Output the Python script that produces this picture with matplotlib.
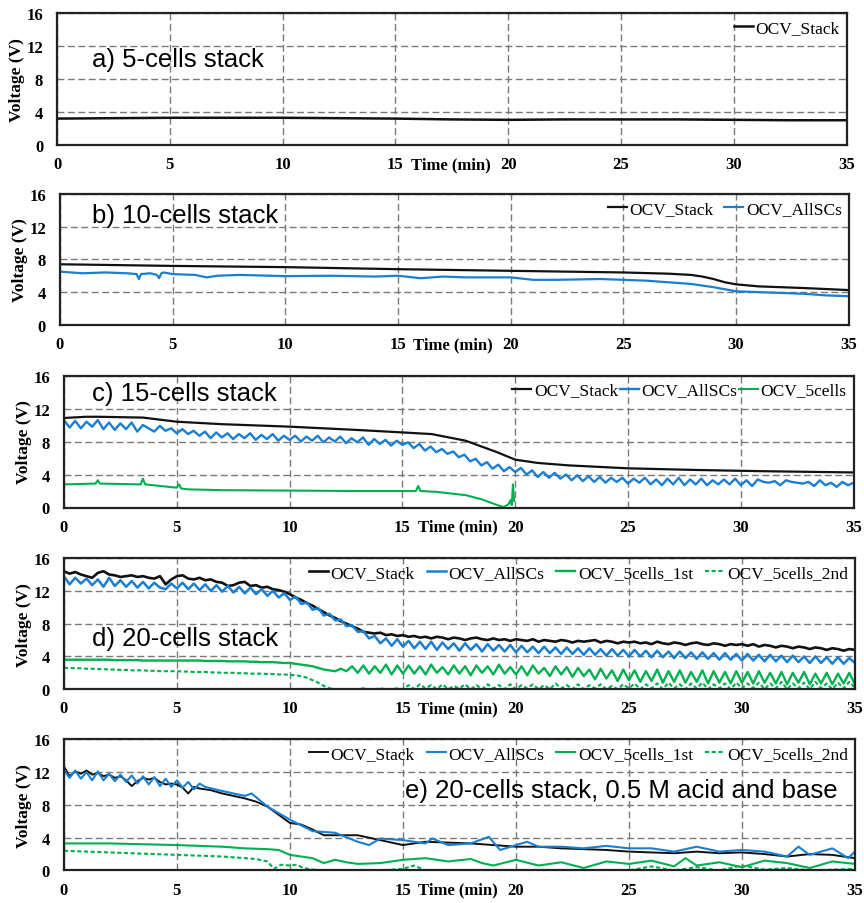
import numpy as np
import matplotlib
matplotlib.use("Agg")
import matplotlib.pyplot as plt

BLACK = "#111111"
BLUE = "#1a7fd0"
GREEN = "#00b050"

# ---- a) 5-cells stack
a_time = [0, 2.5, 5, 7.5, 10, 12.5, 15, 17.5, 20, 22.5, 25, 27.5, 30, 32.5, 35]
a_stack = [3.2, 3.25, 3.3, 3.3, 3.3, 3.25, 3.2, 3.1, 3.05, 3.1, 3.1, 3.1, 3.05, 3.0, 3.0]

# ---- b) 10-cells stack
b_stack_time = [0, 5, 10, 15, 20, 25, 27, 28, 28.5, 29, 29.5, 30, 31, 33, 35]
b_stack = [7.4, 7.2, 7.05, 6.8, 6.6, 6.4, 6.25, 6.1, 5.9, 5.6, 5.2, 4.95, 4.7, 4.5, 4.25]
b_allscs_time = [0, 1, 2, 3, 3.4, 3.5, 3.6, 4, 4.3, 4.4, 4.5, 4.6, 5, 6, 6.5, 7, 8, 10, 12, 14,
                 15, 16, 17, 18, 20, 21, 22, 24, 25, 26, 27, 28, 29, 30, 31, 32, 33, 34, 35]
b_allscs = [6.5, 6.3, 6.4, 6.3, 6.2, 5.6, 6.2, 6.3, 6.1, 5.7, 6.3, 6.4, 6.2, 6.1, 5.8, 6.0, 6.1, 5.95, 6.0, 5.9,
            6.0, 5.7, 5.9, 5.8, 5.8, 5.5, 5.5, 5.6, 5.5, 5.4, 5.2, 5.0, 4.6, 4.1, 4.0, 3.9, 3.8, 3.6, 3.5]

# ---- c) 15-cells stack
c_stack_time = [0, 1, 1.5, 3.5, 5, 7, 10, 13, 15, 16.3, 17.8, 19.2, 20, 21, 22.4, 25, 28, 31, 35]
c_stack = [10.85, 11.0, 11.0, 10.9, 10.4, 10.1, 9.8, 9.4, 9.1, 8.9, 8.1, 6.7, 5.8, 5.4, 5.1, 4.75, 4.55, 4.4, 4.25]
# sampled every 0.25 min
c_allscs = [10.6, 9.7, 10.5, 9.6, 10.4, 9.8, 10.6, 9.5, 10.3, 9.4, 10.2, 9.5, 10.3, 9.2, 10.0, 9.6, 9.2, 9.9, 9.3, 9.6, 9.0,
            9.5, 8.9, 9.3, 8.7, 9.2, 8.4, 9.1, 8.5, 9.0, 8.3, 8.9, 8.4, 9.0, 8.2, 8.8, 8.3, 8.9, 8.1, 8.7, 8.2,
            8.7, 8.0, 8.6, 8.1, 8.7, 7.9, 8.5, 8.0, 8.6, 7.8, 8.4, 7.9, 8.5, 7.6, 8.3, 7.7, 8.2, 7.5, 8.1, 7.6,
            7.9, 7.2, 7.7, 6.9, 7.4, 6.7, 7.1, 6.5, 6.8, 6.1, 6.4, 5.6, 5.9, 5.1, 5.5, 4.7, 5.2, 4.4, 4.9, 4.3,
            4.8, 4.0, 4.5, 3.7, 4.3, 3.6, 4.2, 3.5, 4.0, 3.3, 3.9, 3.2, 3.8, 3.1, 3.7, 3.0, 3.6, 3.1, 3.6, 2.9,
            3.5, 3.0, 3.6, 2.8, 3.4, 2.7, 3.5, 2.8, 3.6, 2.7, 3.4, 2.8, 3.5, 2.7, 3.3, 2.8, 3.4, 2.8, 3.5, 2.7,
            3.3, 2.6, 3.4, 3.1, 3.0, 3.2, 2.7, 3.3, 3.1, 3.0, 2.9, 3.1, 2.6, 3.3, 2.7, 3.0, 2.5, 3.1, 2.7, 3.0]
c_5cells_time = [0, 1.4, 1.5, 1.6, 3.4, 3.5, 3.6, 5.0, 5.1, 5.2, 5.5, 7, 10, 13, 15.6, 15.7, 15.8,
                 16.5, 17.8, 18.5, 19.2, 19.5, 19.7, 19.8, 19.85, 19.9, 19.95]
c_5cells = [2.8, 2.9, 3.3, 2.9, 2.8, 3.5, 2.8, 2.4, 2.8, 2.3, 2.2, 2.1, 2.05, 2.0, 2.0, 2.6, 2.0,
            1.9, 1.5, 1.0, 0.3, 0.05, 0.4, 0.9, 0.3, 2.8, 0.8]

# ---- d) 20-cells stack, every 0.25 min
d_stack = [14.4, 14.1, 14.3, 14.0, 13.8, 13.6, 14.2, 14.4, 14.0, 13.9, 13.7, 13.8, 13.9, 13.7, 13.8, 13.6, 13.5, 13.8, 12.8, 13.4, 13.8,
           13.9, 13.5, 13.4, 13.6, 13.3, 13.4, 13.1, 13.0, 12.6, 12.7, 13.0, 13.1, 12.6, 12.7, 12.4, 12.5, 12.2, 12.1, 11.9, 11.6,
           11.2, 10.9, 10.5, 10.2, 9.8, 9.4, 9.0, 8.7, 8.3, 8.0, 7.7, 7.4, 7.0, 6.9, 6.8, 6.9, 6.6, 6.7, 6.5, 6.6,
           6.4, 6.5, 6.3, 6.4, 6.2, 6.4, 6.3, 6.1, 6.3, 6.2, 6.0, 6.2, 6.3, 6.1, 6.0, 6.2, 6.0, 6.1, 5.9, 6.1,
           6.0, 5.9, 6.1, 5.8, 6.0, 5.9, 5.8, 6.0, 5.9, 5.7, 5.9, 5.8, 5.9, 6.0, 5.7, 5.9, 5.8, 5.6, 5.8, 5.7,
           5.8, 5.6, 5.7, 5.5, 5.8, 5.6, 5.5, 5.7, 5.6, 5.4, 5.6, 5.7, 5.5, 5.4, 5.6, 5.5, 5.3, 5.5, 5.4, 5.5,
           5.3, 5.5, 5.2, 5.4, 5.3, 5.1, 5.3, 5.2, 5.0, 5.2, 5.1, 4.9, 5.1, 5.0, 4.8, 5.0, 4.9, 4.7, 4.9, 4.8]
d_allscs = [13.8, 12.8, 13.6, 12.9, 13.5, 12.7, 13.4, 12.5, 13.6, 12.6, 13.3, 12.5, 13.2, 12.4, 13.1, 12.3, 13.0, 12.4, 12.2, 12.9, 12.3,
            13.0, 12.2, 12.9, 12.1, 12.8, 12.0, 12.7, 11.9, 12.6, 11.8, 12.5, 11.7, 12.4, 11.6, 12.2, 11.4, 12.0, 11.2, 11.7, 10.9,
            11.3, 10.4, 10.6, 9.7, 9.9, 9.0, 9.2, 8.4, 8.5, 7.7, 7.8, 7.0, 7.1, 6.2, 6.5, 5.6, 6.2, 5.3, 6.1, 5.2,
            5.9, 5.0, 5.8, 4.9, 5.8, 4.8, 5.7, 4.9, 5.6, 4.7, 5.6, 4.8, 5.5, 4.6, 5.5, 4.7, 5.4, 4.6, 5.4, 4.5,
            5.3, 4.5, 5.2, 4.4, 5.2, 4.4, 5.1, 4.3, 5.1, 4.3, 5.0, 4.2, 5.0, 4.2, 4.9, 4.1, 4.9, 4.1, 4.8, 4.0,
            4.8, 4.0, 4.7, 3.9, 4.7, 3.9, 4.6, 3.8, 4.6, 3.8, 4.5, 3.7, 4.5, 3.7, 4.4, 3.6, 4.4, 3.6, 4.3, 3.5,
            4.3, 3.5, 4.2, 3.4, 4.2, 3.4, 4.1, 3.3, 4.1, 3.3, 4.0, 3.2, 4.0, 3.2, 3.9, 3.1, 3.9, 3.1, 3.8, 3.2]
d_5cells_1st = [3.6, 3.6, 3.6, 3.6, 3.6, 3.6, 3.6, 3.6, 3.6, 3.55, 3.55, 3.55, 3.55, 3.55, 3.5, 3.5, 3.5, 3.5, 3.5, 3.5, 3.5,
                3.5, 3.5, 3.5, 3.5, 3.45, 3.45, 3.45, 3.45, 3.4, 3.4, 3.4, 3.4, 3.35, 3.35, 3.3, 3.3, 3.3, 3.25, 3.2, 3.2,
                3.1, 3.0, 2.9, 2.8, 2.6, 2.4, 2.3, 2.2, 2.5, 2.2, 2.8, 2.0, 2.9, 1.9, 2.8, 2.0, 3.0, 1.8, 2.9, 1.9,
                2.9, 1.9, 2.8, 1.8, 3.0, 2.0, 2.7, 1.8, 2.9, 1.9, 2.8, 1.7, 2.9, 2.0, 2.8, 1.8, 3.0, 1.9, 2.7, 1.8,
                2.8, 1.7, 2.9, 1.9, 2.6, 1.6, 2.8, 1.8, 2.7, 1.5, 2.6, 1.6, 2.4, 1.2, 2.5, 1.3, 2.3, 1.0, 2.4, 1.1,
                2.3, 0.9, 2.2, 1.0, 2.4, 0.8, 2.2, 0.9, 2.3, 0.8, 2.1, 0.9, 2.3, 0.7, 2.2, 0.8, 2.1, 0.7, 2.2, 0.8,
                2.1, 0.7, 2.2, 0.8, 2.0, 0.7, 2.1, 0.6, 2.0, 0.8, 2.1, 0.6, 1.9, 0.7, 2.0, 0.6, 1.9, 0.7, 2.0, 0.6]
d_5cells_2nd = [2.6, 2.6, 2.55, 2.55, 2.5, 2.5, 2.45, 2.45, 2.4, 2.4, 2.35, 2.35, 2.3, 2.3, 2.3, 2.25, 2.25, 2.2, 2.2, 2.2, 2.2,
                2.15, 2.15, 2.1, 2.1, 2.1, 2.05, 2.05, 2.0, 2.0, 2.0, 1.95, 1.95, 1.9, 1.9, 1.9, 1.85, 1.85, 1.8, 1.8, 1.75,
                1.7, 1.6, 1.4, 1.1, 0.8, 0.4, 0.1, 0.0, 0.0, 0.0, 0.0, 0.0, 0.1, 0.0, 0.0, 0.1, 0.0, 0.0, 0.1, 0.0,
                0.5, 0.0, 0.6, 0.1, 0.5, 0.0, 0.6, 0.0, 0.4, 0.1, 0.6, 0.0, 0.5, 0.0, 0.6, 0.1, 0.5, 0.0, 0.6, 0.0,
                0.5, 0.1, 0.6, 0.0, 0.5, 0.0, 0.7, 0.1, 0.5, 0.0, 0.6, 0.0, 0.5, 0.1, 0.6, 0.0, 0.4, 0.0, 0.6, 0.1,
                0.7, 0.0, 0.6, 0.1, 0.7, 0.0, 0.8, 0.1, 0.6, 0.0, 0.7, 0.1, 0.8, 0.0, 0.6, 0.1, 0.7, 0.0, 0.8, 0.1,
                0.7, 0.1, 0.8, 0.0, 0.7, 0.1, 0.9, 0.0, 0.7, 0.1, 0.8, 0.0, 0.9, 0.1, 0.7, 0.0, 0.8, 0.1, 0.9, 0.2]

# ---- e) 20-cells stack, 0.5 M acid and base
e_stack_time = [0, 0.25, 0.5, 0.75, 1, 1.25, 1.5, 1.75, 2, 2.25, 2.5, 2.75, 3, 3.25, 3.5, 3.75, 4, 4.25,
                4.5, 4.75, 5, 5.25, 5.5, 5.75, 6, 6.5, 7, 7.5, 8, 8.5, 9, 9.5, 10, 10.5, 11, 11.5, 12, 13,
                14, 15, 16, 17, 18, 19, 20, 21, 22, 23, 24, 25, 26, 27, 28, 29, 30, 31, 32, 33, 34, 35]
e_stack = [12.7, 11.5, 12.1, 11.8, 12.2, 11.7, 11.9, 11.5, 11.7, 11.3, 11.5, 11.0, 10.3, 10.9, 11.3, 11.1, 11.3, 10.8,
           10.5, 10.6, 10.5, 10.1, 9.4, 10.2, 10.0, 9.8, 9.4, 9.1, 8.8, 8.4, 7.8, 6.8, 5.8, 5.6, 5.0, 4.3, 4.3, 4.3,
           3.7, 3.1, 3.5, 3.4, 3.3, 3.1, 2.9, 2.9, 2.7, 2.6, 2.5, 2.3, 2.2, 2.1, 2.3, 2.1, 2.2, 2.0, 1.7, 2.0, 1.9, 1.5]
e_allscs_time = [0, 0.25, 0.5, 0.75, 1, 1.25, 1.5, 1.75, 2, 2.25, 2.5, 2.75, 3, 3.25, 3.5, 3.75, 4, 4.25,
                 4.5, 4.75, 5, 5.25, 5.5, 5.75, 6, 6.25, 7, 8, 8.3, 9, 10, 11, 12, 13, 13.5, 14, 15, 16, 16.3,
                 17, 18, 18.8, 19.3, 20, 20.5, 21, 22, 23, 24, 25, 26, 27, 28, 29, 30, 31, 32, 32.5, 33, 34, 34.7, 35]
e_allscs = [12.3, 11.3, 12.2, 11.2, 12.0, 11.0, 12.1, 11.0, 11.8, 10.9, 11.7, 10.8, 11.6, 10.6, 11.5, 10.5, 11.4, 10.3,
            11.2, 10.2, 11.0, 10.1, 10.8, 9.9, 10.6, 10.2, 9.7, 9.1, 9.4, 7.8, 6.2, 4.8, 4.6, 3.5, 3.1, 3.9, 3.7, 3.3, 3.9,
            3.1, 3.3, 4.1, 2.5, 3.1, 3.5, 2.9, 2.9, 2.7, 3.0, 2.7, 2.7, 2.3, 2.9, 2.3, 2.5, 2.3, 1.7, 2.9, 1.9, 2.7, 1.5, 2.3]
e_1st_time = [0, 2, 5, 7, 8, 9, 9.5, 10, 10.5, 11, 11.5, 12, 12.5, 13, 14, 15, 16, 17, 18, 18.5, 19,
              20, 21, 22, 23, 24, 25, 26, 27, 27.5, 28, 29, 30, 31, 32, 33, 34, 35]
e_1st = [3.3, 3.3, 3.1, 2.9, 2.7, 2.6, 2.5, 1.9, 1.7, 1.5, 0.9, 1.3, 1.0, 0.8, 0.9, 1.3, 1.5, 1.1, 1.4, 0.9, 0.6,
         1.3, 0.6, 1.0, 0.3, 1.1, 0.8, 1.2, 0.5, 1.5, 0.6, 1.0, 0.4, 1.2, 0.9, 0.3, 1.1, 0.8]
e_2nd_time = [0, 2, 5, 7, 8.5, 9, 9.3, 9.6, 10, 10.3, 10.6, 11, 12, 13, 14, 15, 15.5, 16, 17, 18, 19,
              20, 22, 25, 26, 27, 28, 29, 30, 31, 32, 33, 35]
e_2nd = [2.4, 2.2, 1.9, 1.7, 1.4, 1.1, 0.2, 0.7, 0.6, 0.7, 0.3, 0.1, 0.0, 0.0, 0.0, 0.2, 0.6, 0.0, 0.0, 0.0, 0.0,
         0.0, 0.0, 0.0, 0.5, 0.0, 0.4, 0.0, 0.6, 0.1, 0.3, 0.0, 0.2]

panel_titles = ["a) 5-cells stack", "b) 10-cells stack", "c) 15-cells stack",
                "d) 20-cells stack", "e) 20-cells stack, 0.5 M acid and base"]
title_pos = [(1.55, 10.4), (1.4, 13.4), (1.25, 13.9), (1.25, 6.2), (15.1, 9.8)]
x_ticks = [0, 5, 10, 15, 20, 25, 30, 35]
y_ticks = [0, 4, 8, 12, 16]

SERIF = "Liberation Serif"
SANS = "Liberation Sans"


def grid_time(vals):
    return np.linspace(0, 35, len(vals))


def style_axes(ax, title, pos):
    ax.set_xlim(0, 35)
    ax.set_ylim(0, 16)
    ax.set_xticks(x_ticks)
    ax.set_yticks(y_ticks)
    ax.tick_params(length=0, labelsize=12)
    ax.tick_params(axis="x", pad=8)
    ax.tick_params(axis="y", pad=10)
    for lab in ax.get_xticklabels() + ax.get_yticklabels():
        lab.set_fontfamily(SERIF)
        lab.set_fontweight("bold")
    ax.grid(True, color="#7a7a7a", linestyle=(0, (5, 2.5)), linewidth=1.0)
    ax.set_axisbelow(True)
    for sp in ax.spines.values():
        sp.set_linewidth(1.6)
        sp.set_color("#222222")
    ax.set_ylabel("Voltage (V)", fontfamily=SERIF, fontweight="bold", fontsize=12.5, labelpad=1)
    ax.annotate("Time (min)", xy=(17.45, 0), xycoords="data", xytext=(0, -8),
                textcoords="offset points", ha="center", va="top",
                fontfamily=SERIF, fontweight="bold", fontsize=12)
    ax.text(pos[0], pos[1], title, fontfamily=SANS, fontsize=18.5, ha="left", va="center")


def add_legend(ax, colspacing):
    ax.legend(loc="upper right", bbox_to_anchor=(1.0, 1.0), ncol=4, frameon=False,
              prop={"family": SERIF, "size": 12.5}, handlelength=1.1, handletextpad=0.15,
              columnspacing=colspacing, borderaxespad=0.2, borderpad=0.2)


fig = plt.figure(figsize=(8.64, 9.04), dpi=100)
rects = [
    [0.066, 0.8385, 0.914, 0.146],
    [0.0694, 0.6395, 0.913, 0.145],
    [0.074, 0.4375, 0.914, 0.146],
    [0.074, 0.2365, 0.9155, 0.145],
    [0.074, 0.036, 0.9155, 0.145],
]
axes = [fig.add_axes(r) for r in rects]

ax = axes[0]
ax.plot(a_time, a_stack, color=BLACK, lw=1.8, label="OCV_Stack")
add_legend(ax, 0.5)

ax = axes[1]
ax.plot(b_stack_time, b_stack, color=BLACK, lw=1.6, label="OCV_Stack")
ax.plot(b_allscs_time, b_allscs, color=BLUE, lw=1.6, label="OCV_AllSCs")
add_legend(ax, 0.6)

ax = axes[2]
ax.plot(c_stack_time, c_stack, color=BLACK, lw=1.6, label="OCV_Stack")
ax.plot(grid_time(c_allscs), c_allscs, color=BLUE, lw=1.7, label="OCV_AllSCs")
ax.plot(c_5cells_time, c_5cells, color=GREEN, lw=1.5, label="OCV_5cells")
add_legend(ax, 0.1)

ax = axes[3]
ax.plot(grid_time(d_stack), d_stack, color=BLACK, lw=1.9, label="OCV_Stack")
ax.plot(grid_time(d_allscs), d_allscs, color=BLUE, lw=1.8, label="OCV_AllSCs")
ax.plot(grid_time(d_5cells_1st), d_5cells_1st, color=GREEN, lw=1.7, label="OCV_5cells_1st")
ax.plot(grid_time(d_5cells_2nd), d_5cells_2nd, color=GREEN, lw=1.5, linestyle=(0, (2, 1.2)),
        label="OCV_5cells_2nd")
add_legend(ax, 0.7)

ax = axes[4]
ax.plot(e_stack_time, e_stack, color=BLACK, lw=1.4, label="OCV_Stack")
ax.plot(e_allscs_time, e_allscs, color=BLUE, lw=1.5, label="OCV_AllSCs")
ax.plot(e_1st_time, e_1st, color=GREEN, lw=1.5, label="OCV_5cells_1st")
ax.plot(e_2nd_time, e_2nd, color=GREEN, lw=1.5, linestyle=(0, (2, 1.2)), label="OCV_5cells_2nd")
add_legend(ax, 0.7)

for ax, title, pos in zip(axes, panel_titles, title_pos):
    style_axes(ax, title, pos)

fig.savefig("out.png", dpi=100, facecolor="white")
